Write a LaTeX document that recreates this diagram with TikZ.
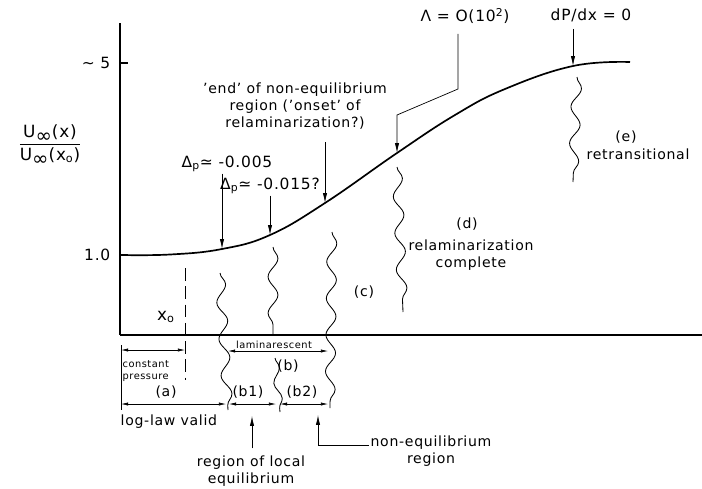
\documentclass[tikz,border=0pt]{standalone}
\usepackage{fontspec}
\setmainfont{DejaVu Sans}[LetterSpace=5]
\usepackage{tikz}
\usetikzlibrary{arrows.meta,positioning,calc,decorations.pathmorphing}

\newcommand{\uinf}{U\raisebox{-0.3em}{\fontsize{14}{14}\selectfont ∞}}

\begin{document}
\begin{tikzpicture}[x=0.025cm, y=-0.025cm,
    tag/.style={font=\fontsize{10}{12}\selectfont, inner sep=1pt, align=center},
    bigtag/.style={font=\fontsize{11}{13}\selectfont, inner sep=1pt, align=center},
    smalltag/.style={font=\fontsize{7}{8.5}\selectfont, inner sep=1pt, align=left},
    pointer/.style={-{Latex[length=7pt,width=3pt]}, line width=0.5pt},
    dimline/.style={{Latex[length=5pt,width=2.2pt]}-{Latex[length=5pt,width=2.2pt]}, line width=0.4pt},
    wavy/.style={decorate, decoration={snake, amplitude=3.5pt, segment length=26pt}, line width=0.6pt}
  ]
  \useasboundingbox (0,0) rectangle (702,488);

  % axes
  \coordinate (ytop) at (120,23);
  \coordinate (origin) at (120,335);
  \coordinate (xend) at (702,335);
  \draw[line width=1.2pt] (ytop) -- (origin);
  \draw[line width=0.8pt] (origin) -- (xend);
  \node[bigtag, anchor=east] (tfive) at (112,63) {∼ 5};
  \node[bigtag, anchor=east] (tone) at (112,255) {1.0};
  \draw[line width=0.8pt] (tfive.east -| origin) -- ++(8,0);
  \draw[line width=0.8pt] (tone.east -| origin) -- ++(8,0);
  \node[font=\fontsize{12}{14}\selectfont] (ratio) at (50,145)
    {$\displaystyle\frac{\hbox{\uinf(x)}}{\hbox{\uinf(x\textsubscript{o})}}$};

  % velocity curve
  \coordinate (p1) at (222,249);
  \coordinate (p2) at (270,235);
  \coordinate (p3) at (325,203);
  \coordinate (p4) at (397,153);
  \coordinate (p5) at (573,66);
  \draw[line width=1.2pt] plot[smooth, tension=0.7]
    coordinates {(120,255) (170,254.5) (p1) (p2) (p3) (p4) (455,115) (505,89) (p5) (630,62)};

  % labels on the curve
  \node[bigtag] (dpa) at (227,164) {Δ\textsubscript{p}≃ -0.005};
  \node[bigtag] (dpb) at (270,186) {Δ\textsubscript{p}≃ -0.015?};
  \node[tag] (endlab) at (295,106) {'end' of non-equilibrium\\region ('onset' of\\relaminarization?)};
  \node[bigtag] (lam) at (465,16) {Λ = O(10\textsuperscript{2})};
  \node[bigtag] (dpdx) at (591,15) {dP/dx = 0};
  \coordinate (lamk1) at (458,89);
  \coordinate (lamk2) at (397,115);
  \draw[pointer] (p1 |- dpa.south) -- (p1);
  \draw[pointer] (p2 |- dpb.south) -- (p2);
  \draw[pointer, shorten <=8pt] (p3 |- endlab.south) -- (p3);
  \draw[pointer, shorten <=6pt] (lamk1 |- lam.south) -- (lamk1) -- (lamk2) -- (p4);
  \draw[pointer, shorten <=4pt] (p5 |- dpdx.south) -- (p5);

  % wavy boundaries
  \coordinate (wa1) at (220,273);
  \coordinate (wa2) at (228,410);
  \coordinate (wb1) at (273,247);
  \coordinate (wb2) at (273,335);
  \coordinate (wc1) at (275,358);
  \coordinate (wc2) at (280,412);
  \coordinate (wd1) at (332,232);
  \coordinate (wd2) at (330,408);
  \coordinate (we1) at (397,167);
  \coordinate (we2) at (403,312);
  \coordinate (wf1) at (577,77);
  \coordinate (wf2) at (573,182);
  \draw[wavy] (wa1) -- (wa2);
  \draw[wavy] (wb1) -- (wb2);
  \draw[wavy, decoration={snake, amplitude=2.5pt, segment length=22pt}] (wc1) -- (wc2);
  \draw[wavy] (wd1) -- (wd2);
  \draw[wavy] (we1) -- (we2);
  \draw[wavy] (wf1) -- (wf2);

  % regions
  \node[tag] (regc) at (364,292) {(c)};
  \node[tag] (regd) at (467,224) {(d)};
  \node[tag] (dtext) at (471,255) {relaminarization\\complete};
  \node[tag] (rege) at (626,137) {(e)};
  \node[tag] (etext) at (638,154) {retransitional};

  % x_o
  \node[font=\fontsize{12}{13}\selectfont] (xo) at (166,317) {x\textsubscript{o}};
  \coordinate (xotop) at (185,268);
  \coordinate (xobot) at (185,380);
  \draw[dash pattern=on 9pt off 4pt, line width=0.6pt] (xotop) -- (xobot);

  % extents below the axis
  \coordinate (leftbar) at (121,345);
  \coordinate (leftbot) at (121,410);
  \draw[line width=0.5pt] (leftbar) -- (leftbot);
  \coordinate (cpL) at (121,350);
  \draw[dimline] (cpL) -- (cpL -| xotop);
  \node[smalltag, anchor=north west] (cp) at (121,359) {constant\\pressure};
  \node[tag] (rega) at (166,392) {(a)};
  \coordinate (llL) at (121,404);
  \coordinate (llR) at (226,404);
  \draw[dimline] (llL) -- (llR);
  \node[tag, anchor=north west] (loglaw) at (119,413) {log-law valid};

  \coordinate (lmL) at (228,351);
  \coordinate (lmR) at (328,351);
  \draw[dimline] (lmL) -- (lmR);
  \node[smalltag, anchor=south] (lamtext) at (274,350) {laminarescent};
  \node[tag] (regb) at (288,366) {(b)};
  \node[tag] (regbi) at (248,392) {(b1)};
  \node[tag] (regbii) at (302,392) {(b2)};
  \coordinate (b1L) at (229,404);
  \coordinate (b1R) at (276,404);
  \coordinate (b2L) at (280,404);
  \coordinate (b2R) at (328,404);
  \draw[dimline] (b1L) -- (b1R);
  \draw[dimline] (b2L) -- (b2R);

  % pointers to the sub-regions
  \node[tag] (rle) at (251,471) {region of local\\equilibrium};
  \coordinate (b1up) at (252,416);
  \draw[pointer, shorten <=4pt] (b1up |- rle.north) -- (b1up);
  \node[tag] (neq) at (431,451) {non-equilibrium\\region};
  \coordinate (b2up) at (318,415);
  \coordinate (neqk) at (318,445);
  \draw[pointer] (neq.west |- neqk) -- (neqk) -- (b2up);
\end{tikzpicture}
\end{document}
